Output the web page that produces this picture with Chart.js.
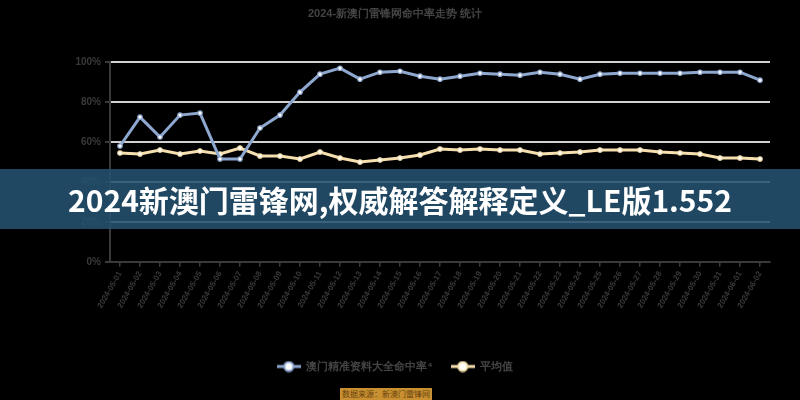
<!DOCTYPE html>
<html lang="zh">
<head>
<meta charset="UTF-8">
<title>走势图</title>
<script src="https://cdn.jsdelivr.net/npm/chart.js"></script>
<style>
  body { margin: 0; background: #000; font-family: "Noto Sans CJK SC", "Noto Sans", sans-serif; }
  #wrap { position: relative; width: 800px; height: 400px; overflow: hidden; }
  #banner {
    position: absolute; left: 0; top: 169px; width: 800px; height: 60px;
    background: rgba(38, 82, 112, 0.88);
    color: #fff; font-weight: bold; font-size: 30px; line-height: 60px; text-align: center;
    font-family: "Noto Sans CJK SC", sans-serif;
  }
  #tag {
    position: absolute; left: 340px; top: 388px; width: 92px; height: 12px;
    background: #c89030; color: #6a4310; font-size: 8px; line-height: 12px; text-align: center;
  }
</style>
</head>
<body>
<div id="wrap">
  <canvas id="chart" width="800" height="388"></canvas>
  <div id="banner">2024新澳门雷锋网,权威解答解释定义_LE版1.552</div>
  <div id="tag">数据来源：新澳门雷锋网统计</div>
</div>
<script>
// categories (33 issues)
const labels = [
  '2024-05-01', '2024-05-02', '2024-05-03', '2024-05-04', '2024-05-05', '2024-05-06',
  '2024-05-07', '2024-05-08', '2024-05-09', '2024-05-10', '2024-05-11', '2024-05-12',
  '2024-05-13', '2024-05-14', '2024-05-15', '2024-05-16', '2024-05-17', '2024-05-18',
  '2024-05-19', '2024-05-20', '2024-05-21', '2024-05-22', '2024-05-23', '2024-05-24',
  '2024-05-25', '2024-05-26', '2024-05-27', '2024-05-28', '2024-05-29', '2024-05-30',
  '2024-05-31', '2024-06-01', '2024-06-02'
];

// series
const hitRate = [58, 72.5, 62.5, 73.5, 74.5, 51.5, 51.5, 67, 73.5, 85, 94, 97, 91.5, 95, 95.5, 93, 91.5,
  93, 94.5, 94, 93.5, 95, 94, 91.5, 94, 94.5, 94.5, 94.5, 94.5, 95, 95, 95, 91];
const avgRate = [54.5, 54, 56, 54, 55.5, 54, 57, 53, 53, 51.5, 55, 52, 50, 51, 52, 53.5, 56.5,
  56, 56.5, 56, 56, 54, 54.5, 55, 56, 56, 56, 55, 54.5, 54, 52, 52, 51.5];

const yTicks = [0, 20, 40, 60, 80, 100];

const seriesNames = ['澳门精准资料大全命中率⁴', '平均值'];
const seriesColors = ['#8ea7cf', '#f6dfae'];

// legend marker: short line with a hollow dot on it
function legendIcon(color) {
  const c = document.createElement('canvas');
  c.width = 24; c.height = 12;
  const g = c.getContext('2d');
  g.strokeStyle = color; g.lineWidth = 3;
  g.beginPath(); g.moveTo(0, 6); g.lineTo(24, 6); g.stroke();
  g.fillStyle = '#ffffff'; g.lineWidth = 2;
  g.beginPath(); g.arc(12, 6, 4.5, 0, Math.PI * 2); g.fill(); g.stroke();
  return c;
}

const ctx = document.getElementById('chart').getContext('2d');
new Chart(ctx, {
  type: 'line',
  data: {
    labels: labels,
    datasets: seriesNames.map((name, i) => ({
      label: name,
      data: i === 0 ? hitRate : avgRate,
      borderColor: seriesColors[i],
      backgroundColor: '#ffffff',
      borderWidth: 3,
      pointRadius: 2.2,
      pointBorderWidth: 1.2,
      pointBorderColor: seriesColors[i],
      pointBackgroundColor: '#ffffff',
      tension: 0
    }))
  },
  options: {
    responsive: false,
    animation: false,
    layout: { padding: { left: 20, right: 30, top: 4, bottom: 6 } },
    plugins: {
      title: {
        display: true,
        text: '2024-新澳门雷锋网命中率走势 统计',
        color: '#444',
        font: { size: 11, weight: 'bold' },
        padding: { top: 3, bottom: 42 }
      },
      legend: {
        position: 'bottom',
        labels: {
          color: '#444',
          usePointStyle: true,
          pointStyleWidth: 24,
          boxHeight: 12,
          padding: 18,
          font: { size: 11, weight: 'bold' },
          generateLabels: chart => Chart.defaults.plugins.legend.labels.generateLabels(chart)
            .map((item, i) => Object.assign(item, { pointStyle: legendIcon(seriesColors[i]) }))
        }
      },
      tooltip: { enabled: false }
    },
    scales: {
      x: {
        offset: true,
        afterFit: scale => { scale.height += 30; },
        grid: { display: true, drawOnChartArea: false, color: '#3a3a3a', tickLength: 5, lineWidth: 1.5 },
        border: { color: '#3a3a3a', width: 2 },
        ticks: {
          color: '#3a3a3a',
          font: { size: 8, weight: 'bold' },
          maxRotation: 60,
          minRotation: 60,
          autoSkip: false
        }
      },
      y: {
        min: 0,
        max: 100,
        afterFit: scale => { scale.width = 90; },
        afterBuildTicks: axis => { axis.ticks = yTicks.map(v => ({ value: v })); },
        grid: { color: '#d2d2d2', lineWidth: 2, tickLength: 5, tickColor: '#3a3a3a' },
        border: { color: '#3a3a3a', width: 2 },
        ticks: {
          color: '#3a3a3a',
          font: { size: 10, weight: 'bold' },
          padding: 4,
          callback: v => v + '%'
        }
      }
    }
  }
});
</script>
</body>
</html>
